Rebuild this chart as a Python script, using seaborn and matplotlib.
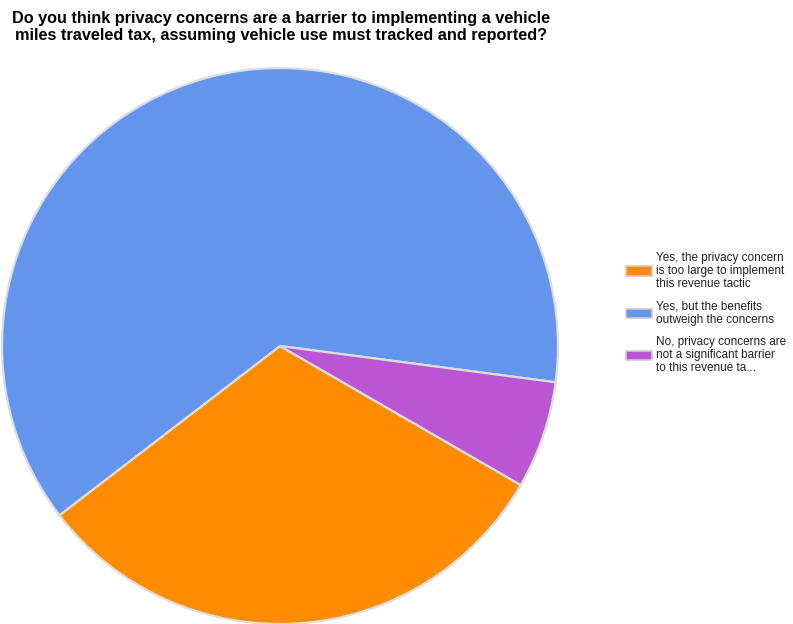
import matplotlib
matplotlib.use("Agg")
import matplotlib.pyplot as plt
import seaborn as sns

# Survey responses
answers = [
    "Yes, the privacy concern\nis too large to implement\nthis revenue tactic",
    "Yes, but the benefits\noutweigh the concerns",
    "No, privacy concerns are\nnot a significant barrier\nto this revenue ta...",
]
responses = [5, 10, 1]
slice_colors = ["#FF8C00", "#6495ED", "#BA55D3"]

title = ("Do you think privacy concerns are a barrier to implementing a vehicle\n"
         "miles traveled tax, assuming vehicle use must tracked and reported?")

sns.set_theme(style="white")
plt.rcParams["font.family"] = ["Liberation Sans", "DejaVu Sans"]

W, H = 793, 624
fig = plt.figure(figsize=(W / 100, H / 100), dpi=100)
fig.patch.set_facecolor("white")

# pie area: centre (280, 346) px, radius 278 px
cx, cy, r = 280, 346, 278
ax = fig.add_axes([(cx - r) / W, (H - cy - r) / H, 2 * r / W, 2 * r / H])
wedges, _ = ax.pie(
    responses,
    colors=slice_colors,
    startangle=-30,
    counterclock=False,
    radius=1.0,
    wedgeprops=dict(edgecolor="#DDDDDD", linewidth=1.6),
)
for w in wedges:
    w.set_clip_on(False)
ax.set_xlim(-1, 1)
ax.set_ylim(-1, 1)
ax.set_aspect("equal")
ax.axis("off")

fig.text(281 / W, 1 - 27 / H, title, ha="center", va="center",
         fontsize=11.7, fontweight="bold", color="#000000", linespacing=1.1)

leg = fig.legend(
    wedges, answers,
    loc="center left",
    bbox_to_anchor=(615 / W, 1 - 313 / H),
    frameon=False,
    fontsize=8.5,
    handlelength=2.2,
    handleheight=0.9,
    handletextpad=0.35,
    labelspacing=0.85,
)
for h in leg.legend_handles:
    h.set_edgecolor("#CCCCCC")
    h.set_linewidth(1.2)
for t in leg.get_texts():
    t.set_linespacing(1.15)
    t.set_color("#222222")

fig.savefig("out.png", dpi=100, facecolor="white")
